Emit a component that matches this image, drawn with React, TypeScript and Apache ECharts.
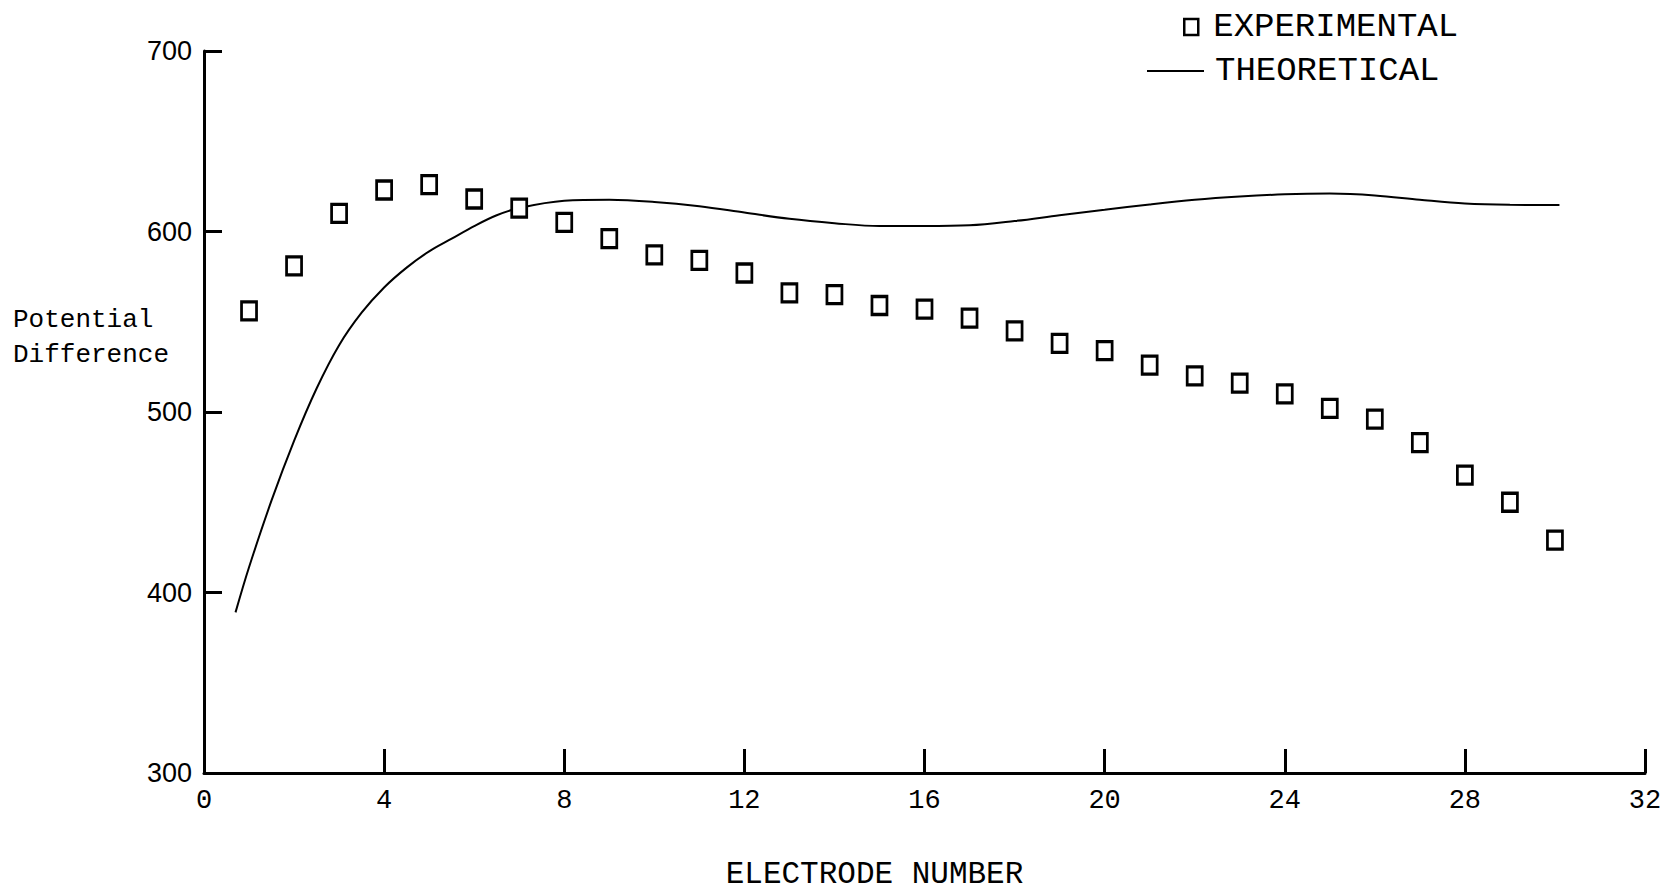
import React, { useEffect, useRef } from "react";
import * as echarts from "echarts";

const xTicks = [0, 4, 8, 12, 16, 20, 24, 28, 32];
const yTicks = [300, 400, 500, 600, 700];

const electrodes = [1, 2, 3, 4, 5, 6, 7, 8, 9, 10, 11, 12, 13, 14, 15, 16, 17, 18, 19, 20, 21, 22, 23, 24, 25, 26, 27, 28, 29, 30];
const experimental = [556, 581, 610, 623, 626, 618, 613, 605, 596, 587, 584, 577, 566, 565, 559, 557, 552, 545, 538, 534, 526, 520, 516, 510, 502, 496, 483, 465, 450, 429];

const theoX = [0.7, 1, 1.5, 2, 2.5, 3, 3.5, 4, 4.5, 5, 5.5, 6, 6.5, 7, 8, 9, 10, 11, 12, 13, 14, 15, 16, 17, 18, 19, 20, 21, 22, 23, 24, 25, 26, 27, 28, 29, 30.1];
const theoY = [389, 414, 451, 484, 513, 537, 555, 569, 580, 589, 596, 603, 609, 613, 617, 617.6, 616.4, 614, 610.5, 607, 604.6, 603, 603, 603.4, 605.8, 609, 612, 615, 617.6, 619.4, 620.6, 621, 620, 617.6, 615.5, 614.8, 614.7];

const MONO = "'Liberation Mono', 'DejaVu Sans Mono', monospace";
const SANS = "'Liberation Sans', Arial, sans-serif";

export default function App() {
  const ref = useRef<HTMLDivElement>(null);
  useEffect(() => {
    if (!ref.current) return;
    const chart = echarts.init(ref.current, undefined, { renderer: "svg" });
    chart.setOption({
      animation: false,
      backgroundColor: "#ffffff",
      grid: { left: 204, right: 34, top: 51, bottom: 118, containLabel: false, outerBoundsMode: "none" },
      legend: [
        {
          data: [{ name: "EXPERIMENTAL", icon: "rect", itemStyle: { color: "#fff", borderColor: "#000", borderWidth: 2.5 } }],
          left: 1178,
          top: 5,
          itemWidth: 14,
          itemHeight: 16,
          textStyle: { fontFamily: MONO, fontSize: 34, color: "#000", padding: [0, 0, 0, 10] },
        },
        {
          data: [{ name: "THEORETICAL", icon: "rect", itemStyle: { color: "#000" } }],
          left: 1142,
          top: 49,
          itemWidth: 57,
          itemHeight: 2,
          textStyle: { fontFamily: MONO, fontSize: 34, color: "#000", padding: [0, 0, 0, 6] },
        },
      ],
      xAxis: {
        type: "value",
        min: xTicks[0],
        max: xTicks[xTicks.length - 1],
        interval: 4,
        name: "ELECTRODE NUMBER",
        nameLocation: "middle",
        nameGap: 86,
        nameTextStyle: { fontFamily: MONO, fontSize: 31, lineHeight: 31, color: "#000", padding: [0, 100, 0, 0] },
        axisLine: { show: true, lineStyle: { color: "#000", width: 3 } },
        axisTick: { show: true, inside: true, length: 24, lineStyle: { color: "#000", width: 3 } },
        axisLabel: { fontFamily: MONO, fontSize: 27, color: "#000", margin: 14 },
        splitLine: { show: false },
      },
      yAxis: {
        type: "value",
        min: yTicks[0],
        max: yTicks[yTicks.length - 1],
        interval: 100,
        axisLine: { show: true, lineStyle: { color: "#000", width: 3 } },
        axisTick: { show: true, inside: true, length: 18, lineStyle: { color: "#000", width: 3 } },
        axisLabel: { fontFamily: SANS, fontSize: 27, color: "#000", margin: 12 },
        splitLine: { show: false },
      },
      graphic: [
        {
          type: "text",
          left: 13,
          top: 302,
          style: {
            text: "Potential\nDifference",
            font: `26px ${MONO}`,
            fill: "#000",
            lineHeight: 35,
          },
        },
      ],
      series: [
        {
          name: "EXPERIMENTAL",
          type: "scatter",
          symbol: "rect",
          symbolSize: [15, 18],
          itemStyle: { color: "#fff", borderColor: "#000", borderWidth: 3, opacity: 1 },
          data: electrodes.map((e, i) => [e, experimental[i]]),
          z: 3,
        },
        {
          name: "THEORETICAL",
          type: "line",
          symbol: "none",
          smooth: 0.35,
          lineStyle: { color: "#000", width: 2 },
          itemStyle: { color: "#000" },
          data: theoX.map((x, i) => [x, theoY[i]]),
          z: 2,
        },
      ],
    });
    return () => chart.dispose();
  }, []);
  return (
    <div
      ref={ref}
      style={{ position: "fixed", left: 0, top: 0, width: 1679, height: 891, background: "#fff" }}
    />
  );
}
